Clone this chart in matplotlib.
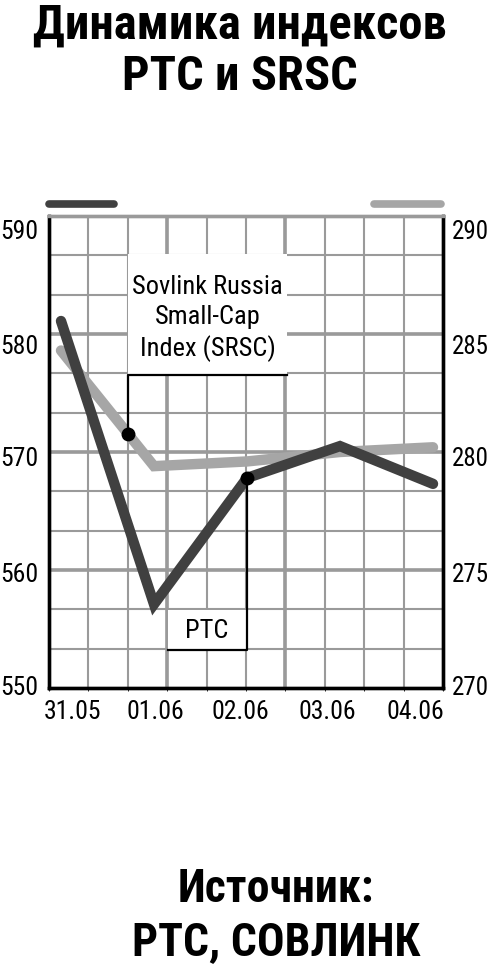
import matplotlib
matplotlib.use("Agg")
import matplotlib.pyplot as plt
from matplotlib import font_manager
from matplotlib.patches import Rectangle
import numpy as np

# datos
fechas = ["31.05", "01.06", "02.06", "03.06", "04.06"]
pos_fechas = [0.12, 1.01, 1.93, 2.86, 3.81]      # las etiquetas no caen justo sobre los puntos
rts = [581.1, 557.1, 567.8, 570.5, 567.3]
srsc = [284.3, 279.4, 279.6, 280.0, 280.2]
x = np.arange(len(rts))

# etiquetas de los ejes y (en el original estan algo desplazadas de las lineas)
etiq_izq = ["550", "560", "570", "580", "590"]
pos_izq = [550.3, 559.9, 569.7, 579.2, 588.9]
etiq_der = ["270", "275", "280", "285", "290"]
pos_der = [270.15, 274.95, 279.85, 284.6, 289.45]

# elegir una fuente estrecha si existe
nombres = {f.name for f in font_manager.fontManager.ttflist}
fuente = "DejaVu Sans"
for f in ["Roboto Condensed", "Liberation Sans Narrow", "Open Sans Condensed", "Liberation Sans"]:
    if f in nombres:
        fuente = f
        break
plt.rcParams["font.family"] = [fuente, "DejaVu Sans"]

oscuro = "#404040"
claro = "#a6a6a6"
rejilla = "#9a9a9a"

fig = plt.figure(figsize=(4.93, 9.70), dpi=100)
ax = fig.add_axes([49/493, 1-689/970, 394/493, 472/970])
ax2 = ax.twinx()
ax.set_zorder(ax2.get_zorder() + 1)
ax.patch.set_visible(False)

xmin = (49-61)/93
xmax = (443-61)/93
ax.set_xlim(xmin, xmax)
ax.set_ylim(550, 590)
ax2.set_ylim(270, 290)

# rejilla en el eje de fondo
paso = (xmax - xmin)/10
ax2.xaxis.set_visible(True)
ax2.set_xticks([xmin + paso*k for k in range(11)], minor=True)
ax2.set_yticks(np.arange(270, 290.1, 5/3), minor=True)
ax2.grid(which="minor", color=rejilla, lw=1.5)
ax2.grid(which="major", visible=False)
for k in [3, 6]:
    ax2.axvline(xmin + paso*k, color=rejilla, lw=2.6, zorder=0.6)
for v in [275, 280, 285]:
    ax2.axhline(v, color=rejilla, lw=2.6, zorder=0.6)
ax2.set_axisbelow(True)

# ticks
ax.set_xticks(pos_fechas)
ax.set_xticklabels(fechas)
ax.set_yticks(pos_izq)
ax.set_yticklabels(etiq_izq)
ax2.set_yticks(pos_der)
ax2.set_yticklabels(etiq_der)
ax.tick_params(axis="both", length=0, labelsize=18.5, pad=8)
ax.tick_params(axis="x", pad=8)
ax2.tick_params(axis="both", which="both", length=0, labelsize=18, pad=6.5)
ax2.tick_params(axis="x", which="both", labelbottom=False)

for a in [ax, ax2]:
    for s in ["left", "right", "bottom"]:
        a.spines[s].set_color("black")
        a.spines[s].set_linewidth(2.4)
    a.spines["top"].set_color(rejilla)
    a.spines["top"].set_linewidth(2.4)

# lineas
ax2.plot(x, srsc, color=claro, lw=7.5, solid_capstyle="round", solid_joinstyle="miter", zorder=3)
ax.plot(x, rts, color=oscuro, lw=7.5, solid_capstyle="round", solid_joinstyle="miter", zorder=3)

# cuadro SRSC
ax.add_patch(Rectangle((0.72, 576.6), 2.43-0.72, 586.8-576.6, facecolor="white", edgecolor="none", zorder=2))
y_punto = np.interp(0.72, x, srsc)
y_punto_izq = 550 + (y_punto-270)*2
ax.plot([2.43, 0.72, 0.72], [576.55, 576.55, y_punto_izq], color="black", lw=1.6, zorder=4)
ax.plot([0.72], [y_punto_izq], "o", color="black", ms=9, zorder=5)
ax.text(1.575, 581.4, "Sovlink Russia\nSmall-Cap\nIndex (SRSC)", ha="center", va="center",
        fontsize=19, linespacing=1.3, zorder=5)

# cuadro RTS
ax.add_patch(Rectangle((1.15, 553.2), 2.0-1.15, 556.6-553.2, facecolor="white", edgecolor="none", zorder=2))
ax.plot([1.15, 2.0, 2.0], [553.2, 553.2, rts[2]], color="black", lw=1.6, zorder=4)
ax.plot([2.0], [rts[2]], "o", color="black", ms=9, zorder=5)
ax.text(1.57, 554.9, "РТС", ha="center", va="center", fontsize=19, zorder=5)

# claves de leyenda sobre el grafico
ax.plot([0.0, 0.165], [1.025, 1.025], transform=ax.transAxes, color=oscuro, lw=5.5,
        solid_capstyle="round", clip_on=False)
ax.plot([0.825, 0.995], [1.025, 1.025], transform=ax.transAxes, color=claro, lw=5.5,
        solid_capstyle="round", clip_on=False)

fig.text(0.487, 0.997, "Динамика индексов\nРТС и SRSC", ha="center", va="top",
         fontsize=35, fontweight="heavy", linespacing=1.15)
fig.text(0.56, 0.006, "Источник:\nРТС, СОВЛИНК", ha="center", va="bottom",
         fontsize=33, fontweight="heavy", linespacing=1.25)

fig.savefig("out.png", dpi=100)
